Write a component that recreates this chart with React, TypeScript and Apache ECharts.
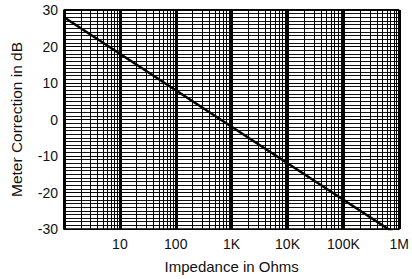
import React, { useEffect, useRef } from "react";
import * as echarts from "echarts";

// Data
const impedance = [1, 10, 100, 1000, 10000, 100000, 1000000];
const correctionDb = [28, 18, 8, -2, -12, -22, -32];

const xTickValues = [1, 10, 100, 1000, 10000, 100000, 1000000];
const xTickLabels = ["", "10", "100", "1K", "10K", "100K", "1M"];
const decades = [1, 10, 100, 1000, 10000, 100000];
const minorMultiples = [2, 3, 4, 5, 6, 7, 8, 9];

export default function App() {
  const ref = useRef<HTMLDivElement>(null);
  useEffect(() => {
    document.body.style.margin = "0";
    if (!ref.current) return;
    const chart = echarts.init(ref.current, null, { renderer: "svg" });
    const minorLines: any[] = [];
    decades.forEach((d) => minorMultiples.forEach((m) => minorLines.push({ xAxis: d * m })));
    const font = "Liberation Sans, Arial, sans-serif";
    chart.setOption({
      animation: false,
      backgroundColor: "#fff",
      grid: { left: 64, right: 12, top: 10, bottom: 50, show: false },
      xAxis: {
        type: "log",
        logBase: 10,
        min: 1,
        max: 1000000,
        name: "Impedance in Ohms",
        nameLocation: "middle",
        nameGap: 30,
        nameTextStyle: { fontFamily: font, fontSize: 15, color: "#111" },
        axisLine: { show: true, onZero: false, lineStyle: { color: "#000", width: 1.5 } },
        axisTick: { show: false },
        axisLabel: {
          fontFamily: font,
          fontSize: 14,
          color: "#111",
          margin: 8,
          formatter: (v: number) => {
            const i = xTickValues.findIndex((t) => Math.abs(t - v) / t < 1e-6);
            return i >= 0 ? xTickLabels[i] : "";
          },
        },
        splitLine: { show: true, lineStyle: { color: "#000", width: 3 } },
      },
      yAxis: {
        type: "value",
        min: -30,
        max: 30,
        interval: 10,
        name: "Meter Correction in dB",
        nameLocation: "middle",
        nameGap: 40,
        nameTextStyle: { fontFamily: font, fontSize: 15.5, color: "#111" },
        axisLine: { show: true, lineStyle: { color: "#000", width: 1.5 } },
        axisTick: { show: false },
        axisLabel: { fontFamily: font, fontSize: 14, color: "#111", margin: 6 },
        splitLine: { show: true, lineStyle: { color: "#000", width: 1.2 } },
        minorTick: { show: false, splitNumber: 10 },
        minorSplitLine: { show: true, lineStyle: { color: "#111", width: 1 } },
      },
      series: [
        {
          type: "line",
          data: impedance.map((z, i) => [z, correctionDb[i]]),
          symbol: "none",
          clip: true,
          lineStyle: { color: "#000", width: 2.5 },
          z: 5,
          markLine: {
            silent: true,
            symbol: "none",
            label: { show: false },
            lineStyle: { color: "#000", width: 1, type: "solid" },
            data: minorLines,
          },
        },
        {
          type: "line",
          data: [],
          markLine: {
            silent: true,
            symbol: "none",
            label: { show: false },
            lineStyle: { color: "#000", width: 2, type: "solid" },
            data: [{ xAxis: 1000000 }, { yAxis: 30 }],
          },
        },
      ],
    });
    return () => chart.dispose();
  }, []);
  return <div ref={ref} style={{ width: 412, height: 279 }} />;
}
